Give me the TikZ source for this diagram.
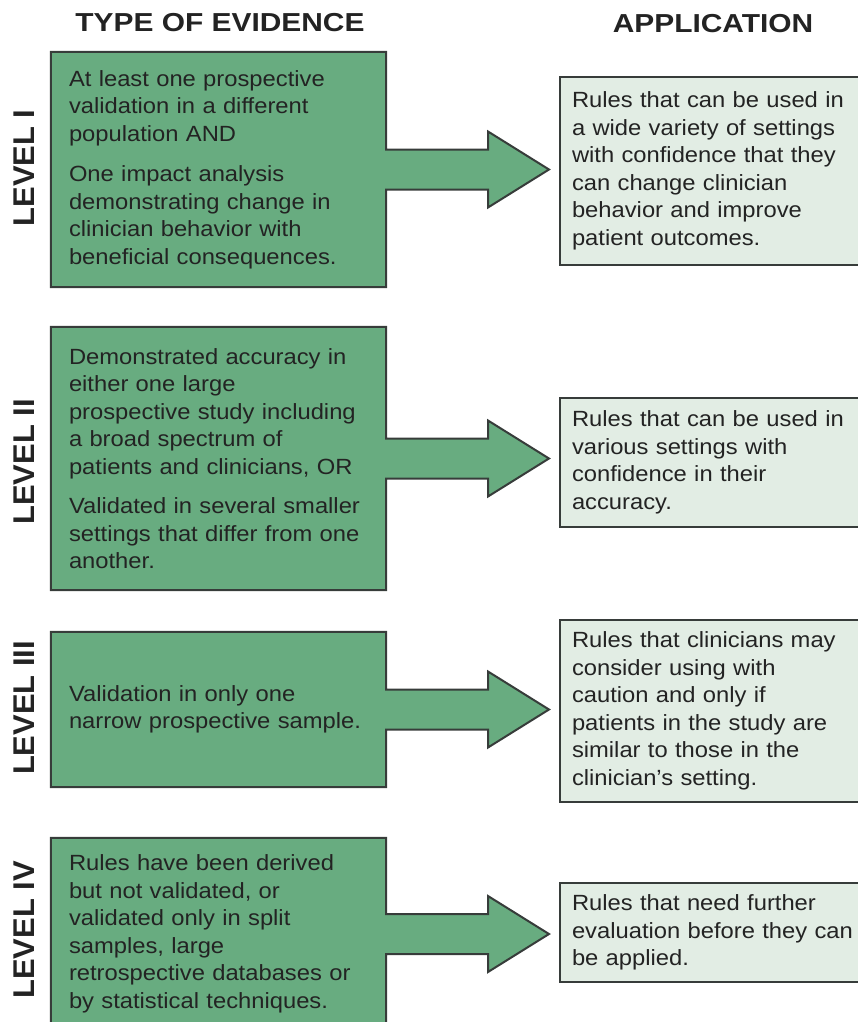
\documentclass[tikz,border=0pt]{standalone}
\usepackage{fontspec}
\setmainfont{Liberation Sans}
\newfontfamily\bodyfont{Liberation Sans}[FakeStretch=1.08]
\newfontfamily\headfont{Liberation Sans}[FakeStretch=1.15]
\newfontfamily\levelfont{Liberation Sans}[FakeStretch=1.03]
\usepackage{xcolor}
\usepackage{tikz}
\usetikzlibrary{calc}
\usetikzlibrary{backgrounds}
\definecolor{evgreen}{RGB}{104,172,128}
\definecolor{appfill}{RGB}{226,237,228}
\definecolor{edge}{RGB}{55,60,58}
\definecolor{ink}{RGB}{35,35,35}
\tikzset{evidence/.style={minimum width=335pt, text width=299pt, inner xsep=18pt, inner ysep=4pt,
        align=left, text=ink, font=\bodyfont\fontsize{22}{27.5}\selectfont},
    application/.style={draw=edge, line width=2pt, fill=appfill, minimum width=315pt,
        text width=291pt, inner xsep=12pt, inner ysep=4pt,
        align=left, text=ink, font=\bodyfont\fontsize{22}{27.5}\selectfont},
    evoutline/.style={draw=edge, line width=2pt, fill=evgreen},
    heading/.style={text=ink, font=\headfont\bfseries\fontsize{26}{30}\selectfont},
    level/.style={text=ink, rotate=90, font=\levelfont\bfseries\fontsize{30}{34}\selectfont}}

\begin{document}
\begin{tikzpicture}[x=1pt,y=-1pt]
    \useasboundingbox (0,0) rectangle (857,1022);
    \node[heading] (evhead) at (220,23) {TYPE OF EVIDENCE};
    \node[heading] (apphead) at (713,24) {APPLICATION};

    \node[level] (lev1) at (24,168) {LEVEL I};
    \node[level] (lev2) at (24,462) {LEVEL II};
    \node[level] (lev3) at (24,708) {LEVEL III};
    \node[level] (lev4) at (24,930) {LEVEL IV};

    \node[evidence, minimum height=235pt] (ev1) at (218.5,169.5)
        {At least one prospective\\ validation in a different\\ population AND\\[13pt]
         One impact analysis\\ demonstrating change in\\ clinician behavior with\\ beneficial consequences.};
    \node[evidence, minimum height=263pt] (ev2) at (218.5,458.5)
        {Demonstrated accuracy in\\ either one large\\ prospective study including\\ a broad spectrum of\\ patients and clinicians, OR\\[12pt]
         Validated in several smaller\\ settings that differ from one\\ another.};
    \node[evidence, minimum height=155pt] (ev3) at (218.5,709.5)
        {Validation in only one\\ narrow prospective sample.};
    \node[evidence, minimum height=192pt] (ev4) at (218.5,934)
        {Rules have been derived\\ but not validated, or\\ validated only in split\\ samples, large\\ retrospective databases or\\ by statistical techniques.};

    \node[application, minimum height=188pt] (app1) at (717.5,171)
        {Rules that can be used in\\ a wide variety of settings\\ with confidence that they\\ can change clinician\\ behavior and improve\\ patient outcomes.};
    \node[application, minimum height=129pt] (app2) at (717.5,462.5)
        {Rules that can be used in\\ various settings with\\ confidence in their\\ accuracy.};
    \node[application, minimum height=182pt] (app3) at (717.5,711)
        {Rules that clinicians may\\ consider using with\\ caution and only if\\ patients in the study are\\ similar to those in the\\ clinician’s setting.};
    \node[application, minimum height=99pt] (app4) at (717.5,932.5)
        {Rules that need further\\ evaluation before they can\\ be applied.};

    % green box and block arrow as one outline
    \begin{scope}[on background layer]
        \foreach \i in {1,...,4}{
            \coordinate (tip\i) at ($(app\i.west |- ev\i.east)+(-10,0)$);
            \draw[evoutline] (ev\i.north west) -- (ev\i.north east)
                -- ($(ev\i.east)+(0,-20)$) -- ($(tip\i)+(-61,-20)$) -- ($(tip\i)+(-61,-38)$)
                -- (tip\i)
                -- ($(tip\i)+(-61,38)$) -- ($(tip\i)+(-61,20)$) -- ($(ev\i.east)+(0,20)$)
                -- (ev\i.south east) -- (ev\i.south west) -- cycle;
        }
    \end{scope}
\end{tikzpicture}
\end{document}
